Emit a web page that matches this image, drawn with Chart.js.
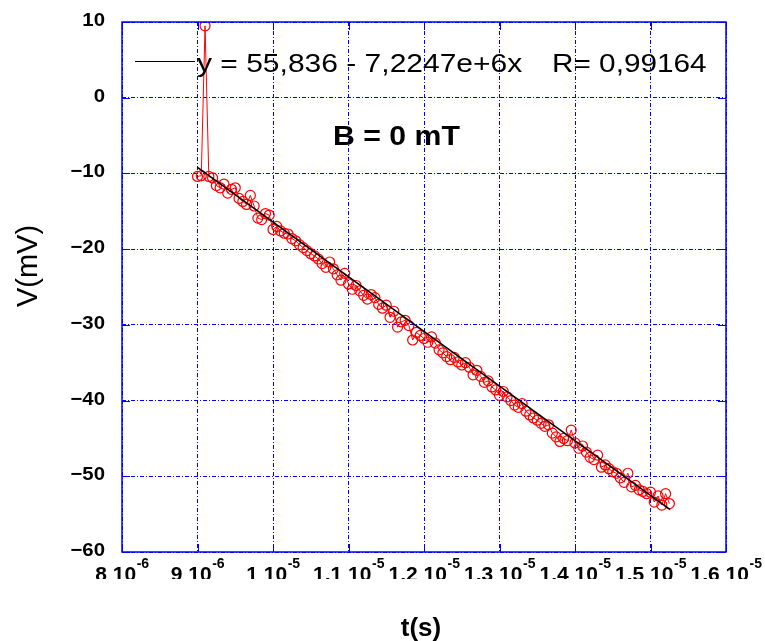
<!DOCTYPE html>
<html>
<head>
<meta charset="utf-8">
<script src="https://cdn.jsdelivr.net/npm/chart.js@4.4.1/dist/chart.umd.min.js"></script>
<style>
html,body{margin:0;padding:0;background:#fff;}
canvas{display:block;}
</style>
</head>
<body>
<canvas id="c" width="765" height="641"></canvas>
<script>
// time in microseconds (axis labels are in seconds)
const timeUs = [
 9.00,9.05,9.10,9.15,9.20,9.25,9.30,9.35,9.40,9.45,9.50,9.55,9.60,9.65,9.70,9.75,9.80,9.85,9.90,9.95,
 10.00,10.05,10.10,10.15,10.20,10.25,10.30,10.35,10.40,10.45,10.50,10.55,10.60,10.65,10.70,10.75,10.80,10.85,10.90,10.95,
 11.00,11.05,11.10,11.15,11.20,11.25,11.30,11.35,11.40,11.45,11.50,11.55,11.60,11.65,11.70,11.75,11.80,11.85,11.90,11.95,
 12.00,12.05,12.10,12.15,12.20,12.25,12.30,12.35,12.40,12.45,12.50,12.55,12.60,12.65,12.70,12.75,12.80,12.85,12.90,12.95,
 13.00,13.05,13.10,13.15,13.20,13.25,13.30,13.35,13.40,13.45,13.50,13.55,13.60,13.65,13.70,13.75,13.80,13.85,13.90,13.95,
 14.00,14.05,14.10,14.15,14.20,14.25,14.30,14.35,14.40,14.45,14.50,14.55,14.60,14.65,14.70,14.75,14.80,14.85,14.90,14.95,
 15.00,15.05,15.10,15.15,15.20,15.25
];
// voltage in mV
const voltageMv = [
 -10.4,-10.3,9.5,-10.4,-10.6,-11.6,-11.9,-11.4,-12.6,-12.1,-11.9,-13.3,-13.7,-14.1,-12.9,-14.3,-15.9,-16.1,-15.3,-15.5,
 -17.4,-17.0,-17.6,-17.9,-18.0,-18.6,-18.9,-19.4,-19.8,-20.2,-20.6,-20.9,-21.3,-21.9,-22.4,-21.7,-22.6,-23.4,-24.1,-23.2,
 -24.6,-25.3,-24.8,-25.5,-26.1,-26.6,-26.0,-26.4,-27.3,-27.8,-27.4,-29.0,-28.2,-30.3,-29.6,-29.4,-30.1,-32.0,-31.0,-31.4,
 -31.8,-32.3,-31.6,-32.4,-33.3,-33.7,-34.2,-34.6,-34.3,-34.9,-35.3,-35.0,-35.6,-36.6,-36.0,-36.8,-37.6,-37.4,-38.2,-38.6,
 -39.3,-38.8,-39.5,-40.0,-40.6,-40.9,-40.4,-41.4,-41.9,-42.3,-42.6,-43.0,-43.4,-43.2,-44.3,-44.8,-45.4,-45.0,-45.3,-43.9,
 -45.6,-46.3,-46.0,-46.8,-47.5,-47.8,-47.2,-48.8,-48.5,-49.0,-49.4,-49.6,-50.2,-50.8,-49.6,-51.4,-51.2,-51.8,-52.0,-52.3,
 -52.1,-53.4,-52.6,-53.8,-52.3,-53.6
];
// fit: y = 55,836 - 7,2247e+6 x  (x in s) -> slope per microsecond
const fitIntercept = 55.836;
const fitSlopePerUs = -7.2247;
const fitRangeUs = [9.0, 15.26];

const xTickValues = [8,9,10,11,12,13,14,15,16];
const xTickMantissa = ["8","9","1","1,1","1,2","1,3","1,4","1,5","1,6"];
const xTickExponent = ["-6","-6","-5","-5","-5","-5","-5","-5","-5"];
const yTickValues = [10,0,-10,-20,-30,-40,-50,-60];
const yTickLabels = ["10","0","\u221210","\u221220","\u221230","\u221240","\u221250","\u221260"];

const legendEq = "y = 55,836 - 7,2247e+6x";
const legendR = "R= 0,99164";
const annotation = "B = 0 mT";
const xTitle = "t(s)";
const yTitle = "V(mV)";

const points = timeUs.map((t,i)=>({x:t, y:voltageMv[i]}));
const fitPoints = fitRangeUs.map(t=>({x:t, y:fitIntercept + fitSlopePerUs*t}));

const FONT = '"Liberation Sans", Arial, Helvetica, sans-serif';
const BLUE = '#0000ff';

function stretchText(ctx, text, x, y, font, align, sx){
  ctx.save();
  ctx.font = font;
  ctx.textAlign = 'left';
  ctx.textBaseline = 'alphabetic';
  const w = ctx.measureText(text).width * sx;
  const x0 = align === 'right' ? x - w : (align === 'center' ? x - w/2 : x);
  ctx.translate(x0, y);
  ctx.scale(sx, 1);
  ctx.fillText(text, 0, 0);
  ctx.restore();
  return w;
}

const decor = {
  id: 'decor',
  afterDraw(chart){
    const ctx = chart.ctx;
    const a = chart.chartArea;
    const xs = chart.scales.x, ys = chart.scales.y;
    ctx.save();
    // frame
    ctx.strokeStyle = BLUE;
    ctx.lineWidth = 1.5;
    ctx.strokeRect(a.left, a.top, a.right - a.left, a.bottom - a.top);
    // inner ticks
    ctx.lineWidth = 1;
    ctx.beginPath();
    xTickValues.forEach(v=>{
      const px = Math.round(xs.getPixelForValue(v)) + 0.5;
      ctx.moveTo(px, a.bottom); ctx.lineTo(px, a.bottom - 8);
      ctx.moveTo(px, a.top); ctx.lineTo(px, a.top + 8);
    });
    yTickValues.forEach(v=>{
      const py = Math.round(ys.getPixelForValue(v)) + 0.5;
      ctx.moveTo(a.left, py); ctx.lineTo(a.left + 8, py);
      ctx.moveTo(a.right, py); ctx.lineTo(a.right - 8, py);
    });
    ctx.stroke();

    ctx.fillStyle = '#000';
    // y tick labels
    yTickValues.forEach((v,i)=>{
      const py = ys.getPixelForValue(v);
      stretchText(ctx, yTickLabels[i], a.left - 17, py + 4, 'bold 18.5px ' + FONT, 'right', 1.1);
    });
    // x tick labels (clipped at bottom like the original)
    ctx.save();
    ctx.beginPath();
    ctx.rect(0, a.bottom + 1, chart.width, 26);
    ctx.clip();
    xTickValues.forEach((v,i)=>{
      const px = xs.getPixelForValue(v);
      const base = xTickMantissa[i] + ' 10';
      const fb = 'bold 21px ' + FONT, fe = 'bold 14px ' + FONT;
      ctx.font = fb; const wb = ctx.measureText(base).width;
      ctx.font = fe; const we = ctx.measureText(xTickExponent[i]).width;
      const x0 = px - (wb + we)/2;
      stretchText(ctx, base, x0, a.bottom + 28.5, fb, 'left', 1.0);
      stretchText(ctx, xTickExponent[i], x0 + wb + 0.5, a.bottom + 16, fe, 'left', 1.0);
    });
    ctx.restore();

    // legend
    ctx.strokeStyle = '#000';
    ctx.lineWidth = 1;
    ctx.beginPath();
    ctx.moveTo(135, 61.5); ctx.lineTo(195, 61.5);
    ctx.stroke();
    stretchText(ctx, legendEq, 197, 72, '25px ' + FONT, 'left', 1.2);
    stretchText(ctx, legendR, 552, 72, '25px ' + FONT, 'left', 1.19);
    // annotation
    stretchText(ctx, annotation, 333, 145, 'bold 28px ' + FONT, 'left', 1.08);
    // axis titles
    stretchText(ctx, xTitle, (a.left + a.right)/2 - 3, 636, 'bold 26px ' + FONT, 'center', 1.0);
    ctx.save();
    ctx.translate(37, 266);
    ctx.rotate(-Math.PI/2);
    ctx.font = '29px ' + FONT;
    ctx.textAlign = 'center';
    ctx.textBaseline = 'alphabetic';
    ctx.fillText(yTitle, 0, 0);
    ctx.restore();
    ctx.restore();
  }
};

new Chart(document.getElementById('c'), {
  type: 'scatter',
  data: {
    datasets: [
      {
        label: 'fit',
        data: fitPoints,
        showLine: true,
        borderColor: '#000',
        borderWidth: 1.5,
        pointRadius: 0,
        fill: false
      },
      {
        label: 'data',
        data: points,
        showLine: true,
        borderColor: '#ff0000',
        borderWidth: 1,
        pointRadius: 5,
        pointBorderWidth: 1.2,
        pointBorderColor: '#ff0000',
        pointBackgroundColor: 'rgba(0,0,0,0)',
        fill: false
      }
    ]
  },
  options: {
    responsive: false,
    devicePixelRatio: 1,
    animation: false,
    layout: { padding: { left: 122, top: 22, right: 39, bottom: 89 } },
    plugins: { legend: { display: false }, tooltip: { enabled: false } },
    scales: {
      x: {
        type: 'linear', min: 8, max: 16,
        afterBuildTicks: s => { s.ticks = xTickValues.map(v=>({value:v})); },
        afterFit: s => { s.height = 0; },
        ticks: { display: false },
        border: { display: false, dash: [4,2,1,2] },
        grid: { color: BLUE, lineWidth: 1, drawTicks: false }
      },
      y: {
        type: 'linear', min: -60, max: 10,
        afterBuildTicks: s => { s.ticks = yTickValues.slice().reverse().map(v=>({value:v})); },
        afterFit: s => { s.width = 0; },
        ticks: { display: false },
        border: { display: false, dash: [4,2,1,2] },
        grid: { color: BLUE, lineWidth: 1, drawTicks: false }
      }
    }
  },
  plugins: [decor]
});
</script>
</body>
</html>
